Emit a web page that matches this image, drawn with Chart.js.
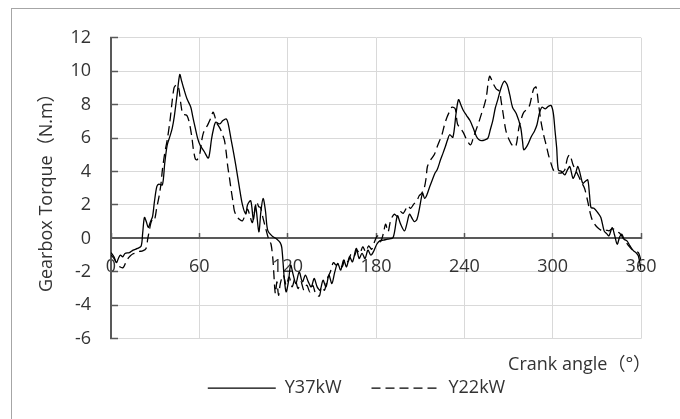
<!DOCTYPE html>
<html>
<head>
<meta charset="utf-8">
<script src="https://cdn.jsdelivr.net/npm/chart.js@4/dist/chart.umd.min.js"></script>
<style>
  html, body { margin: 0; padding: 0; background: #fff; overflow: hidden; }
  #wrap { position: relative; width: 680px; height: 419px; overflow: hidden; }
  #frame { position: absolute; left: 11px; top: 8px; width: 720px; height: 440px; border: 1px solid #a6a6a6; }
  canvas { position: absolute; left: 0; top: 0; }
</style>
</head>
<body>
<div id="wrap">
  <div id="frame"></div>
  <canvas id="chart" width="680" height="419"></canvas>
</div>
<script>
const seriesNames = ["Y37kW", "Y22kW"];
const xTitle = "Crank angle（°）";
const yTitle = "Gearbox Torque（N.m）";

// Y37kW, crank angle (deg) and torque
const angles37 = [0, 2, 3.7, 5, 6.4, 8, 9.5, 12.5, 15, 18, 20.5, 21.5, 22.7, 24, 25.3, 26.8, 28.2, 29.5, 31.1, 32.5,
  34.9, 36.5, 38.2, 40, 41.6, 43, 44.9, 46.7, 48, 49.3, 51.6, 54.2, 55.5, 57.1, 58.8, 60.4, 63.3, 66, 67, 68.2,
  69.5, 71.1, 73.8, 76, 78.2, 79.5, 81.6, 83.3, 84.9, 87.1, 89.3, 91.6, 92.7, 94.9, 96.7, 98.2, 100.4, 101.8, 103.3, 104.9,
  106.4, 109.3, 112.7, 114.9, 116, 117.6, 118.9, 120.5, 122, 123.8, 125.6, 127.8, 130, 132, 134, 136, 138, 140, 142, 144,
  146, 148, 150, 152, 154, 156, 158, 160, 162, 164, 166.6, 168.5, 170.5, 172.5, 174.5, 176.5, 178.5, 180.5, 182.5, 185,
  188, 191.6, 194.5, 196.5, 199.3, 201, 202.7, 204.5, 206, 207.8, 209.5, 211.6, 213, 214.5, 216.5, 218.2, 220, 221.5, 223.8, 225.5,
  227.1, 228.6, 230, 232.2, 234.4, 236, 237.6, 239.3, 241.5, 243.8, 246, 248.2, 250, 251.6, 254, 256, 257.6, 259.3, 261, 262.7,
  264.9, 267.1, 269, 270.8, 272.7, 275.3, 278.2, 279.5, 280.4, 282.7, 285.5, 287.5, 289.3, 291, 292.7, 295, 297, 298.9, 300.4, 301.5,
  302.7, 303.8, 306, 308.2, 310, 311.6, 313.8, 315.5, 317.1, 318.8, 320.4, 322, 323.8, 325, 326, 328, 330.5, 332.7, 334.9, 336.5,
  338.2, 340.4, 342, 343.8, 345.5, 347, 348.5, 350.4, 352.5, 354.9, 356.5, 358.2, 360];
const torque37 = [-0.85, -1.1, -1.45, -1.2, -1.0, -1.1, -0.9, -0.85, -0.7, -0.6, -0.45, 0.3, 1.25, 1.0, 0.65, 1.0, 1.3, 2.2, 3.1, 3.25,
  3.2, 4.5, 5.6, 6.1, 6.6, 7.3, 8.6, 9.8, 9.4, 9.0, 8.35, 7.85, 7.3, 6.65, 6.0, 5.6, 5.2, 4.8, 5.1, 5.9,
  6.5, 6.95, 6.85, 7.05, 7.15, 6.9, 5.9, 5.1, 4.3, 3.1, 2.0, 1.45, 2.0, 2.25, 1.15, 1.95, 0.4, 1.6, 2.4, 1.65,
  0.5, 0.15, -0.05, -0.25, -0.55, -2.3, -3.2, -2.6, -1.6, -2.2, -2.7, -2.0, -2.6, -2.2, -2.6, -2.9, -2.4, -2.9, -3.1, -2.5,
  -2.9, -2.2, -2.7, -2.0, -1.5, -1.9, -1.3, -1.7, -1.1, -1.4, -0.6, -1.2, -0.9, -1.2, -0.7, -1.0, -0.75, -0.35, -0.15, -0.1,
  -0.05, 0.05, 1.35, 0.9, 0.45, 0.9, 1.45, 1.2, 1.0, 1.15, 1.8, 2.7, 2.4, 2.6, 3.1, 3.5, 3.9, 4.1, 4.7, 5.1,
  5.5, 5.9, 6.2, 6.05, 7.5, 8.3, 8.0, 7.65, 7.35, 7.05, 6.6, 6.1, 5.9, 5.85, 5.9, 6.0, 6.5, 7.05, 7.8, 8.3,
  9.0, 9.4, 9.2, 8.6, 7.85, 7.45, 6.65, 5.8, 5.3, 5.55, 6.1, 6.4, 6.8, 7.5, 7.85, 7.75, 7.9, 7.95, 7.5, 6.5,
  5.4, 4.1, 4.0, 3.8, 4.1, 4.3, 3.6, 3.9, 4.3, 3.8, 3.3, 3.4, 3.5, 2.6, 1.85, 1.8, 1.55, 1.25, 0.45, 0.3,
  0.15, 0.65, 0.2, -0.35, 0.1, 0.25, -0.05, -0.15, -0.45, -0.75, -0.85, -1.05, -1.9];

// Y22kW, crank angle (deg) and torque
const angles22 = [0, 2, 4, 6, 8.2, 10, 11.6, 13, 15, 17, 19.3, 21.5, 23.8, 25, 26, 27, 28.2, 29.5, 31, 32.7,
  34, 34.9, 36.5, 38.2, 40, 41.6, 42.8, 43.8, 45, 46.2, 47.5, 48.7, 50, 51.6, 53, 53.8, 55, 56, 57.3, 58.5,
  60.4, 61.5, 62.7, 64.5, 66, 67.8, 69.3, 70.5, 71.6, 74.2, 75.8, 77.1, 78.3, 79.3, 80.5, 81.6, 83, 83.8, 85.5, 87.1,
  89.3, 91, 92.7, 94.5, 96, 97.5, 98.9, 100.3, 101.6, 103.3, 104.9, 107.1, 108.7, 110, 111.6, 112.7, 113.8, 115, 117, 119,
  121, 123, 125, 127, 129, 131, 133, 135, 137, 139, 141.5, 143, 145, 147, 149, 151, 153, 155, 157, 159,
  161, 163, 165, 167, 169, 171, 173, 175, 177, 179, 181, 183, 185, 186.5, 188.2, 190, 192.5, 194.5, 196.5, 198.5,
  201.6, 203.5, 205.6, 207.5, 209.3, 211, 212.7, 214, 214.9, 217.1, 219.5, 221.6, 224.9, 226.5, 228.2, 230, 231.6, 233.8, 235.3, 237.6,
  239.5, 241.6, 244.2, 246, 248.2, 250, 251.6, 253.3, 254.9, 256, 257.1, 258.2, 259.3, 261.6, 263.8, 265, 266, 268.2, 270.4, 272.7,
  274.9, 277.1, 278.8, 280.4, 283.8, 285.5, 287.1, 288.7, 290.4, 292, 293.8, 295.5, 297.1, 298.8, 300.4, 302.5, 304.9, 306.5, 308.2, 310,
  311.6, 313.8, 316, 317.7, 319.3, 321.6, 323.8, 325.5, 327.1, 330.4, 333.8, 336, 338.2, 340, 341.6, 343.3, 344.9, 346.5, 348.2, 350,
  351.6, 354.9, 358.2, 360];
const torque22 = [-1.0, -1.2, -1.5, -1.7, -1.75, -1.45, -1.2, -1.05, -0.92, -0.88, -0.78, -0.75, -0.6, 0.0, 0.45, 0.9, 1.15, 1.1, 1.8, 2.55,
  3.3, 4.1, 5.1, 5.9, 7.0, 8.25, 9.0, 9.15, 9.2, 8.9, 8.0, 7.45, 7.4, 7.35, 7.0, 6.65, 6.0, 5.3, 4.75, 4.7,
  5.1, 5.8, 6.3, 6.6, 6.85, 7.2, 7.55, 7.3, 6.95, 6.55, 6.2, 5.85, 5.1, 4.3, 3.6, 2.9, 2.1, 1.65, 1.3, 1.15,
  1.05, 1.4, 1.75, 1.3, 0.95, 1.6, 2.2, 1.9, 1.85, 1.2, 0.65, -0.05, -0.35, -1.3, -3.3, -2.6, -3.4, -2.7, -2.2, -2.8,
  -2.3, -2.9, -2.4, -3.0, -2.6, -3.1, -2.8, -3.2, -2.8, -3.3, -3.45, -2.9, -3.1, -2.4, -2.0, -1.45, -1.6, -1.45, -1.7, -1.2,
  -1.4, -0.95, -1.1, -0.7, -0.9, -0.5, -0.8, -0.45, -0.65, -0.2, 0.15, -0.2, 0.3, 0.85, 0.4, 1.1, 1.45, 1.3, 1.6, 1.5,
  1.95, 1.8, 2.05, 2.2, 2.55, 2.7, 3.0, 3.6, 4.3, 4.7, 5.0, 5.5, 6.25, 6.8, 7.25, 7.6, 7.85, 7.75, 6.85, 6.55,
  6.3, 5.9, 5.6, 6.0, 6.55, 7.0, 7.45, 7.9, 8.45, 9.2, 9.7, 9.55, 9.3, 8.95, 8.8, 8.2, 7.65, 6.45, 5.9, 5.55,
  5.5, 6.65, 7.2, 7.55, 7.85, 8.4, 8.95, 9.05, 8.0, 7.0, 6.2, 5.6, 5.0, 4.5, 4.1, 3.95, 3.9, 3.95, 4.1, 4.8,
  5.0, 4.4, 4.0, 3.7, 3.4, 3.0, 2.2, 1.5, 1.05, 0.65, 0.45, 0.5, 0.45, 0.55, 0.55, 0.4, 0.35, 0.2, -0.05, -0.25,
  -0.45, -0.75, -0.85, -1.35];

const fontFamily = "'Open Sans', 'Noto Sans CJK SC', sans-serif";
const textColor = "#333333";
const axisColor = "#595959";
const gridColor = "#d9d9d9";

Chart.defaults.font.family = fontFamily;
Chart.defaults.font.size = 18;
Chart.defaults.color = textColor;

const toPoints = (xs, ys) => xs.map((x, i) => ({ x, y: ys[i] }));

// x axis title and the line legend under the plot
const axisExtras = {
  id: "axisExtras",
  afterDraw(chart) {
    const { ctx, chartArea } = chart;
    ctx.save();
    ctx.font = "18px " + fontFamily;
    ctx.fillStyle = textColor;
    ctx.textBaseline = "middle";
    ctx.textAlign = "left";
    ctx.fillText(xTitle, chartArea.right - 133, chartArea.bottom + 26);

    const sample = 68, gap = 9, spacing = 30;
    const items = chart.data.datasets.map((ds) => ({
      ds,
      w: sample + gap + ctx.measureText(ds.label).width,
    }));
    const total = items.reduce((s, it) => s + it.w, 0) + spacing * (items.length - 1);
    let x = chart.width / 2 + 16.5 - total / 2;
    const y = chartArea.bottom + 49.5;
    items.forEach(({ ds, w }) => {
      ctx.beginPath();
      ctx.setLineDash(ds.borderDash || []);
      ctx.lineWidth = ds.borderWidth;
      ctx.strokeStyle = ds.borderColor;
      ctx.moveTo(x, y);
      ctx.lineTo(x + sample, y);
      ctx.stroke();
      ctx.setLineDash([]);
      ctx.fillText(ds.label, x + sample + gap, y);
      x += w + spacing;
    });
    ctx.restore();
  },
};

new Chart(document.getElementById("chart"), {
  type: "line",
  data: {
    datasets: [
      {
        label: seriesNames[0],
        data: toPoints(angles37, torque37),
        borderColor: "#000000",
        borderWidth: 1.3,
        pointRadius: 0,
        tension: 0.3,
        fill: false,
      },
      {
        label: seriesNames[1],
        data: toPoints(angles22, torque22),
        borderColor: "#000000",
        borderWidth: 1.3,
        borderDash: [9, 5],
        pointRadius: 0,
        tension: 0.3,
        fill: false,
      },
    ],
  },
  options: {
    responsive: false,
    animation: false,
    layout: { padding: { left: 0, top: 34.5, right: 28.7, bottom: 80.3 } },
    plugins: {
      legend: { display: false },
      tooltip: { enabled: false },
    },
    scales: {
      x: {
        type: "linear",
        position: { y: 0 },
        min: 0,
        max: 360,
        ticks: { stepSize: 60, padding: 23.5, maxRotation: 0, color: textColor },
        grid: { color: gridColor, lineWidth: 1, tickColor: axisColor, tickLength: -6, tickWidth: 1.5 },
        border: { color: axisColor, width: 2 },
      },
      y: {
        min: -6,
        max: 12,
        ticks: { stepSize: 2, padding: 27, color: textColor },
        grid: {
          color: (c) => (c.tick && c.tick.value === 0 ? axisColor : gridColor),
          lineWidth: (c) => (c.tick && c.tick.value === 0 ? 2 : 1),
          tickColor: axisColor,
          tickLength: -7,
          tickWidth: 1.5,
        },
        border: { color: axisColor, width: 2 },
        title: { display: true, text: yTitle, color: textColor, padding: { top: 36, bottom: 0 } },
        afterFit(scale) {
          scale.width = 111;
        },
      },
    },
  },
  plugins: [axisExtras],
});
</script>
</body>
</html>
